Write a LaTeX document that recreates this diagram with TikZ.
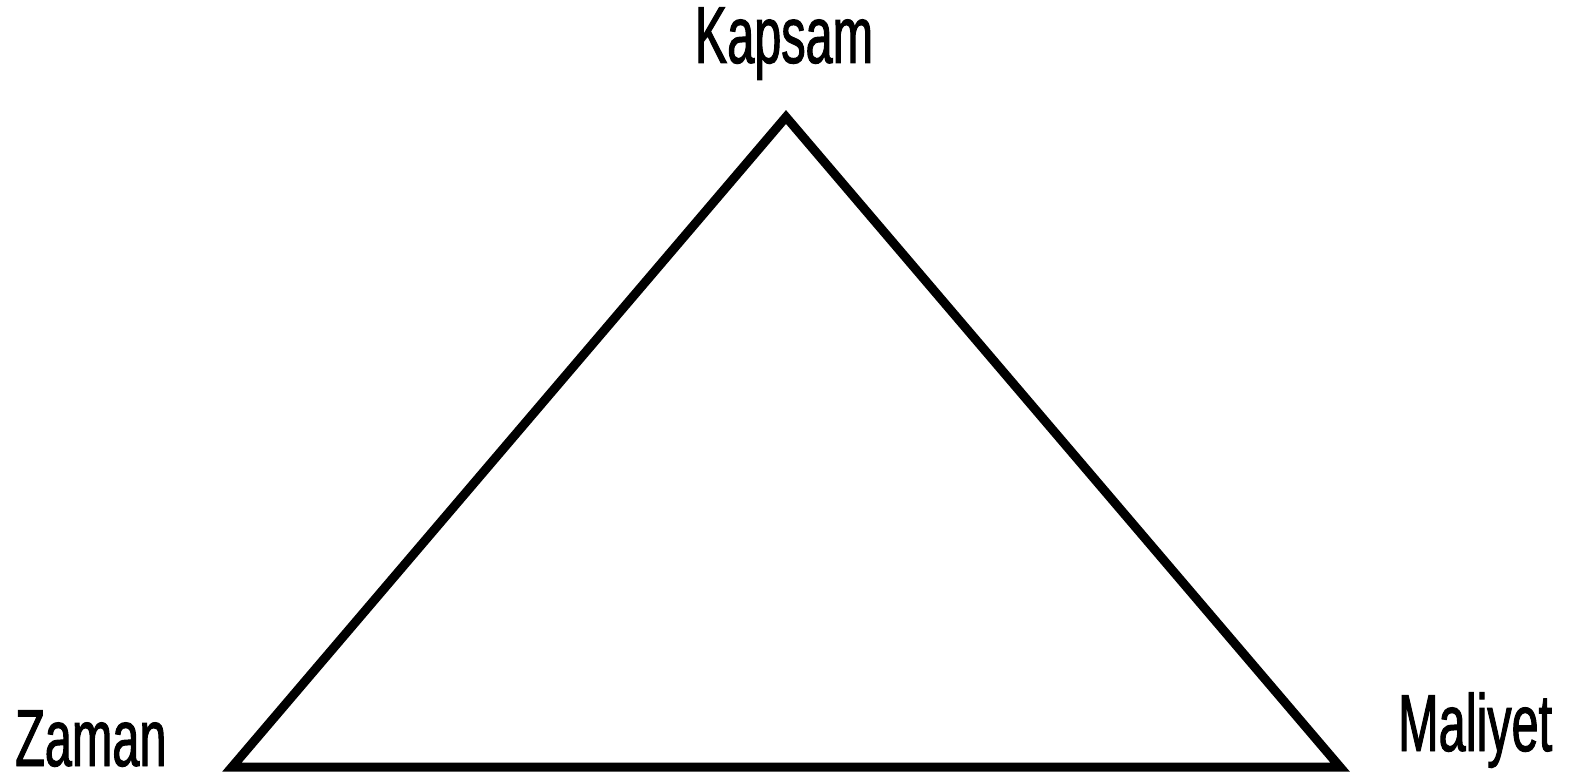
\documentclass[tikz,border=0pt]{standalone}
\usepackage{fontspec}
\newfontfamily\condfont[FakeStretch=0.6,FakeBold=1.2]{Liberation Sans}
\begin{document}
\begin{tikzpicture}[x=1pt,y=-1pt,
  lbl/.style={inner sep=0pt,font=\condfont\fontsize{81}{90}\selectfont},
  edge/.style={draw=black,line width=9pt,line join=miter}]
\useasboundingbox (0,0) rectangle (1571,781);
\coordinate (top) at (786,117);
\coordinate (bl) at (232,767);
\coordinate (br) at (1340,767);
\draw[edge] (top) -- (bl) -- (br) -- cycle;
\node[lbl,anchor=base] (kapsam) at (784,63) {Kapsam};
\node[lbl,anchor=base west] (zaman) at (15,766) {Zaman};
\node[lbl,anchor=base west] (maliyet) at (1398,751) {Maliyet};
\end{tikzpicture}
\end{document}
